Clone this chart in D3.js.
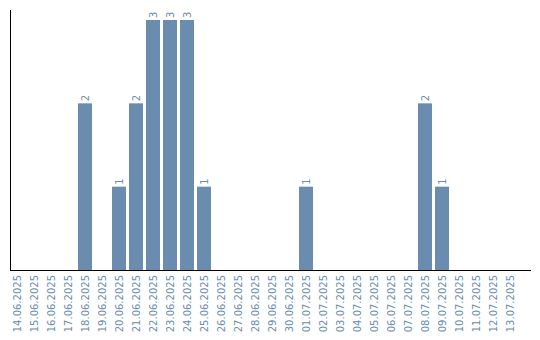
<!DOCTYPE html>
<html>
<head>
<meta charset="utf-8">
<script src="https://cdn.jsdelivr.net/npm/d3@7"></script>
<style>
  body { margin: 0; background: #fff; }
  text { font-family: "DejaVu Sans", sans-serif; }
</style>
</head>
<body>
<div id="main"></div>
<script>
const WIDTH = 540;
const HEIGHT = 340;
const COLOR = "#6a8cae";

// dates and counts
const dates = [
  "14.06.2025", "15.06.2025", "16.06.2025", "17.06.2025", "18.06.2025",
  "19.06.2025", "20.06.2025", "21.06.2025", "22.06.2025", "23.06.2025",
  "24.06.2025", "25.06.2025", "26.06.2025", "27.06.2025", "28.06.2025",
  "29.06.2025", "30.06.2025", "01.07.2025", "02.07.2025", "03.07.2025",
  "04.07.2025", "05.07.2025", "06.07.2025", "07.07.2025", "08.07.2025",
  "09.07.2025", "10.07.2025", "11.07.2025", "12.07.2025", "13.07.2025"
];
const counts = [
  0, 0, 0, 0, 2,
  0, 1, 2, 3, 3,
  3, 1, 0, 0, 0,
  0, 0, 1, 0, 0,
  0, 0, 0, 0, 2,
  1, 0, 0, 0, 0
];

const data = dates.map((d, i) => ({ date: d, count: counts[i] }));

const svg = d3.select("#main")
  .append("svg")
  .attr("width", WIDTH)
  .attr("height", HEIGHT);

const x = d3.scaleBand()
  .domain(dates)
  .range([10, 517])
  .paddingInner(3 / 17)
  .paddingOuter(0);

const y = d3.scaleLinear()
  .domain([0, 3])
  .range([270, 20]);

// bars
svg.selectAll(".bar")
  .data(data.filter(d => d.count > 0))
  .enter()
  .append("rect")
  .attr("class", "bar")
  .attr("x", d => x(d.date))
  .attr("width", x.bandwidth())
  .attr("y", d => y(d.count))
  .attr("height", d => y(0) - y(d.count))
  .attr("fill", COLOR);

// value labels
svg.selectAll(".val")
  .data(data.filter(d => d.count > 0))
  .enter()
  .append("text")
  .attr("class", "val")
  .attr("transform", d => `translate(${x(d.date) + x.bandwidth() / 2}, ${y(d.count) - 2}) rotate(-90)`)
  .attr("dy", "0.35em")
  .attr("font-size", 10)
  .attr("fill", COLOR)
  .text(d => d.count);

// x axis
const xAxis = svg.append("g")
  .attr("transform", `translate(0, ${y(0)})`)
  .call(d3.axisBottom(x).tickSize(0).tickPadding(0));
xAxis.select(".domain").remove();
xAxis.selectAll("text")
  .attr("font-size", 10)
  .attr("font-family", "DejaVu Sans, sans-serif")
  .attr("fill", COLOR)
  .attr("transform", "rotate(-90)")
  .attr("x", -5)
  .attr("y", 0)
  .attr("dy", "0.35em")
  .style("text-anchor", "end");

// axis lines
svg.append("line")
  .attr("x1", 10.5).attr("x2", 10.5)
  .attr("y1", 10).attr("y2", y(0))
  .attr("stroke", "#000");
svg.append("line")
  .attr("x1", 10).attr("x2", 531)
  .attr("y1", y(0) + 0.5).attr("y2", y(0) + 0.5)
  .attr("stroke", "#000");
</script>
</body>
</html>
